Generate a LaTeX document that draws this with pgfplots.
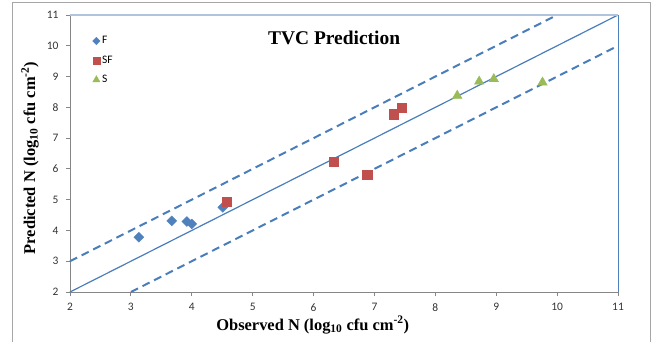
\documentclass[border=0pt]{standalone}
\usepackage{fontspec}
\setmainfont{Liberation Serif}
\newfontfamily\calibri{Carlito}
\usepackage{pgfplots}
\pgfplotsset{compat=1.18}
\definecolor{xlblue}{HTML}{4F81BD}
\definecolor{xlline}{HTML}{4A7EBB}
\definecolor{xlred}{HTML}{C0504D}
\definecolor{xlgreen}{HTML}{9BBB59}
\definecolor{xlgrey}{HTML}{868686}
\definecolor{xltop}{HTML}{B0C4DE}
\begin{document}
\begin{tikzpicture}[x=1bp,y=1bp]
\useasboundingbox (-70,-49) rectangle (584,292);
\draw[color=black!35, line width=1bp] (-57,-60) -- (-57,289.5) -- (580,289.5) -- (580,-60);
\begin{axis}[
  at={(0,0)}, anchor=south west,
  scale only axis, width=548bp, height=277bp,
  xmin=2, xmax=11, ymin=2, ymax=11,
  xtick={2,3,...,11}, ytick={2,3,...,11},
  axis x line*=bottom, axis y line*=left,
  axis line style={xlgrey, line width=0.8bp, -},
  tick style={xlgrey, line width=0.8bp},
  tick align=outside, major tick length=4bp,
  /pgf/number format/assume math mode=true,
  ticklabel style={font=\calibri\fontsize{11.5}{13}\selectfont, text=black!80},
  xticklabel style={yshift=-4bp},
  yticklabel style={xshift=-4bp},
  xlabel={\textbf{Observed N (log\textsubscript{10} cfu cm\textsuperscript{-2})}},
  ylabel={\textbf{Predicted N (log\textsubscript{10} cfu cm\textsuperscript{-2})}},
  xlabel style={at={(axis description cs:0.443,-0.119)}, anchor=center, font=\fontsize{16.5}{19}\selectfont},
  ylabel style={at={(axis description cs:-0.073,0.484)}, anchor=center, rotate=0, font=\fontsize{16.5}{19}\selectfont},
  legend style={at={(axis description cs:0.041,0.93)}, anchor=north west, draw=none, fill=none,
    font=\calibri\fontsize{11.5}{13}\selectfont, row sep=6.5bp, inner sep=0pt},
  legend cell align=left,
  legend image code/.code={\draw[#1, every mark/.append style={scale=0.75}] plot coordinates {(0pt,0pt)};},
  clip=false,
]
\addplot[xlline, line width=1.2bp, forget plot] coordinates {(2,2) (11,11)};
\addplot[xlline, line width=2bp, dash pattern=on 8bp off 5bp, forget plot] coordinates {(2,3) (10,11)};
\addplot[xlline, line width=2bp, dash pattern=on 8bp off 5bp, forget plot] coordinates {(3,2) (11,10)};
\addplot[only marks, mark=square*, mark size=3.5bp, mark options={rotate=45, fill=xlblue, draw=xlblue}] coordinates {
(3.13,3.78) (3.67,4.31) (3.92,4.29) (4.00,4.21) (4.51,4.75)};
\addlegendentry{F}
\addplot[only marks, mark=square*, mark size=4.6bp, mark options={fill=xlred, draw=xlred}] coordinates {
(4.57,4.93) (6.33,6.24) (6.88,5.80) (7.32,7.78) (7.45,8.00)};
\addlegendentry{SF}
\addplot[only marks, mark=triangle*, mark size=5.5bp, mark options={fill=xlgreen, draw=xlgreen}] coordinates {
(8.36,8.38) (8.72,8.84) (8.96,8.92) (9.76,8.81)};
\addlegendentry{S}
\draw[xltop, line width=2bp] (rel axis cs:0,1) -- (rel axis cs:1,1);
\draw[xlblue, line width=0.9bp] (rel axis cs:1,0) -- (rel axis cs:1,1);
\node[font=\bfseries\fontsize{19.5}{22}\selectfont] at (axis description cs:0.482,0.917) {TVC Prediction};
\end{axis}
\end{tikzpicture}
\end{document}
